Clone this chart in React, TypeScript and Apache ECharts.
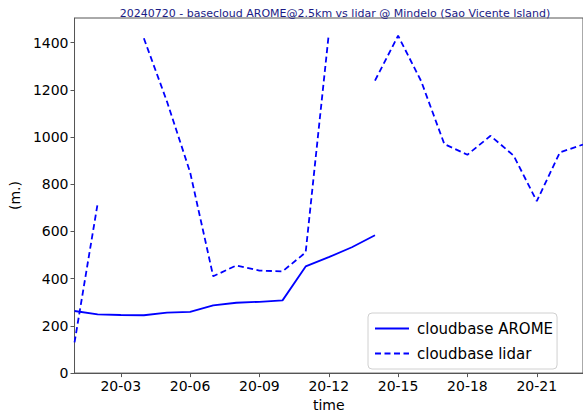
import React, { useEffect, useRef } from "react";
import * as echarts from "echarts";

const titleText = "20240720 - basecloud AROME@2.5km vs lidar @ Mindelo (Sao Vicente Island)";
const hours = [1, 2, 3, 4, 5, 6, 7, 8, 9, 10, 11, 12, 13, 14, 15, 16, 17, 18, 19, 20, 21, 22, 23];
const arome: (number | null)[] = [263, 249, 246, 245, 256, 259, 287, 298, 302, 308, 452, 491, 533, 584, null, null, null, null, null, null, null, null, null];
const lidar: (number | null)[] = [130, 718, null, 1418, 1150, 851, 410, 456, 434, 431, 511, 1436, null, 1239, 1429, 1236, 970, 925, 1005, 921, 728, 935, 968];
const xTicks = [3, 6, 9, 12, 15, 18, 21];
const yTicks = [0, 200, 400, 600, 800, 1000, 1200, 1400];

const FONT = "DejaVu Sans";

export default function App() {
  const ref = useRef<HTMLDivElement>(null);
  useEffect(() => {
    if (!ref.current) return;
    const chart = echarts.init(ref.current, undefined, { renderer: "svg" });
    const pad = (v: number) => (v < 10 ? "0" + v : "" + v);
    chart.setOption({
      animation: false,
      backgroundColor: "#ffffff",
      textStyle: { fontFamily: FONT },
      title: {
        text: titleText,
        left: 330,
        textAlign: "center",
        top: 3,
        textStyle: { fontFamily: FONT, fontSize: 11, fontWeight: "normal", color: "#1a1a85" },
      },
      grid: {
        left: 73,
        top: 18,
        right: -4,
        bottom: 41,
        show: true,
        borderColor: "#555",
        borderWidth: 1,
        backgroundColor: "transparent",
      },
      legend: {
        orient: "vertical",
        left: 368,
        top: 313,
        backgroundColor: "#ffffff",
        borderColor: "#d0d0d0",
        borderWidth: 1,
        borderRadius: 4,
        padding: [8, 4, 8, 6],
        itemGap: 10,
        itemWidth: 34,
        itemHeight: 14,
        itemStyle: { opacity: 0 },
        textStyle: { fontFamily: FONT, fontSize: 15, color: "#000", padding: [0, 0, 0, 3] },
        data: ["cloudbase AROME", "cloudbase lidar"],
      },
      xAxis: {
        type: "value",
        min: 1,
        max: 23,
        name: "time",
        nameLocation: "middle",
        nameGap: 24,
        nameTextStyle: { fontFamily: FONT, fontSize: 14, color: "#000" },
        splitLine: { show: false },
        axisLine: { show: true, lineStyle: { color: "#555" } },
        axisTick: { show: true, length: 4, lineStyle: { color: "#555" }, customValues: xTicks },
        axisLabel: {
          customValues: xTicks,
          formatter: (v: number) => "20-" + pad(v),
          fontFamily: FONT,
          fontSize: 14,
          color: "#000",
          margin: 6,
        },
      },
      yAxis: {
        type: "value",
        min: 0,
        max: 1504,
        name: "(m.)",
        nameLocation: "middle",
        nameGap: 50,
        nameTextStyle: { fontFamily: FONT, fontSize: 14, color: "#000" },
        splitLine: { show: false },
        axisLine: { show: true, lineStyle: { color: "#555" } },
        axisTick: { show: true, length: 4, lineStyle: { color: "#555" }, customValues: yTicks },
        axisLabel: {
          customValues: yTicks,
          formatter: (v: number) => String(v),
          fontFamily: FONT,
          fontSize: 14,
          color: "#000",
          margin: 6,
        },
      },
      series: [
        {
          name: "cloudbase AROME",
          type: "line",
          data: hours.map((h, i) => [h, arome[i]]),
          symbol: "none",
          connectNulls: false,
          lineStyle: { color: "#0000ff", width: 1.8, type: "solid" },
          itemStyle: { color: "#0000ff" },
        },
        {
          name: "cloudbase lidar",
          type: "line",
          data: hours.map((h, i) => [h, lidar[i]]),
          symbol: "none",
          connectNulls: false,
          lineStyle: { color: "#0000ff", width: 1.8, type: [6, 3.5] },
          itemStyle: { color: "#0000ff" },
        },
      ],
    });
    return () => chart.dispose();
  }, []);
  return <div ref={ref} style={{ width: 583, height: 417, position: "absolute", left: 0, top: 0 }} />;
}
